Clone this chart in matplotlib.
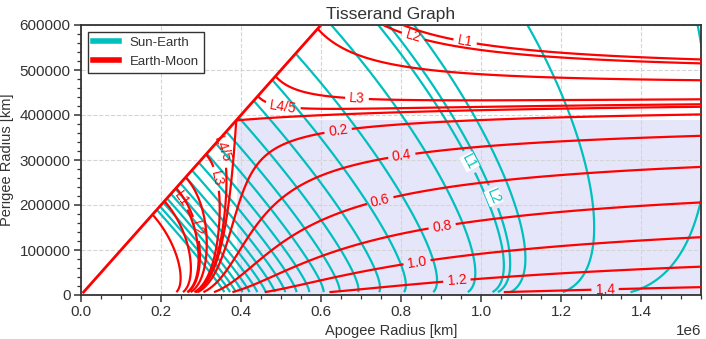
import numpy as np
import matplotlib
matplotlib.use("Agg")
import matplotlib.pyplot as plt
from matplotlib.lines import Line2D

plt.rcParams['font.family'] = ['Liberation Sans', 'DejaVu Sans']
plt.rcParams['text.color'] = '#333333'
plt.rcParams['axes.labelcolor'] = '#333333'
plt.rcParams['axes.edgecolor'] = '#333333'
plt.rcParams['xtick.color'] = '#333333'
plt.rcParams['ytick.color'] = '#333333'

# system constants (CR3BP units)
EM_MU = 0.01215              # Earth-Moon mass ratio
EM_LU = 389703.0             # km
EM_VU = 389703.0 / 382981.0  # km/s
SE_MU = 3.0035e-6            # Sun-Earth mass ratio
SE_LU = 149597871.0          # km
R_EARTH = 6378.0             # km

# Earth-Moon levels
EM_VINF = [0.0, 0.2, 0.4, 0.6, 0.8, 1.0, 1.2, 1.4]     # km/s
EM_LNAMES = ['L1', 'L2', 'L3', 'L4/5']
EM_LJACOBI = [3.1883, 3.1722, 3.0121, 2.9880]
EM_EXTRA = [3.1]            # unlabelled
EM_INNER = [3.3, 3.5]       # unlabelled, inside lunar orbit only

# Sun-Earth levels (Jacobi constant)
SE_LEVELS = [3.000683, 3.000774, 3.000864, 3.000955, 3.001045, 3.001136,
             3.001227, 3.001317, 3.001408, 3.001498, 3.001589, 3.001680,
             3.001770, 3.001861, 3.001951, 3.002042, 3.002133, 3.002223,
             3.002314, 3.002404, 3.002495]
SE_LNAMES = ['L1', 'L2']
SE_LJACOBI = [3.000900, 3.000889]

# label positions (apogee km, perigee km)
EM_VINF_POS = [None, (0.6425e6, 366700), (0.8018e6, 311100), (0.7475e6, 211100),
               (0.9018e6, 159300), (0.8393e6, 77800), (0.9393e6, 37800),
               (1.31e6, 18400)]
EM_LPOS_OUT = [(0.96e6, 562200), (0.83e6, 573300), (0.69e6, 437800), (0.505e6, 417800)]
EM_LPOS_IN = [(0.2475e6, 211100), (0.293e6, 148200), (0.343e6, 259300), (0.352e6, 322200)]
SE_LPOS = [(0.968e6, 294400), (1.0225e6, 214900)]

XMAX = 1.55e6
YMAX = 6.0e5


def tisserand(ra, rp, mu_c, lu):
    a = 0.5 * (ra + rp) / lu
    p = 2.0 * ra * rp / (ra + rp) / lu
    return mu_c / a + 2.0 * np.sqrt(mu_c * p)


ra = np.linspace(1.0e3, 1.56e6, 1800)
rp = np.linspace(R_EARTH, YMAX, 800)
RA, RP = np.meshgrid(ra, rp)
valid = RP <= RA

T_em = np.where(valid, tisserand(RA, RP, 1.0 - EM_MU, EM_LU), np.nan)
T_em_in = np.where(RA < EM_LU, T_em, np.nan)
C_se = np.where(valid, 3.0 + tisserand(RA, RP, SE_MU, SE_LU), np.nan)

T0 = 3.0 * (1.0 - EM_MU) ** (2.0 / 3.0)
vinf_T = [T0 - (v / EM_VU) ** 2 for v in EM_VINF]

fig = plt.figure(figsize=(7.06, 3.39), dpi=100)
ax = fig.add_axes([81 / 706, 44 / 339, 620 / 706, 270 / 339])

ax.fill_between([EM_LU, XMAX], 0, EM_LU, color='lavender', zorder=0.1, lw=0)

lw = 1.6
lab = dict(fontsize=10, inline=True, inline_spacing=4)

ax.contour(RA, RP, C_se, levels=SE_LEVELS, colors='c', linewidths=lw, zorder=2)
for name, c, pos in zip(SE_LNAMES, SE_LJACOBI, SE_LPOS):
    cs = ax.contour(RA, RP, C_se, levels=[c], colors='c', linewidths=lw, zorder=2)
    txts = cs.clabel(manual=[pos], fmt={cs.levels[0]: name}, **lab)
    for t in txts:
        t.set_bbox(dict(facecolor='white', edgecolor='none', pad=0.3))

for v, t, pos in zip(EM_VINF, vinf_T, EM_VINF_POS):
    cs = ax.contour(RA, RP, T_em, levels=[t], colors='r', linewidths=lw, zorder=3)
    if pos is not None:
        cs.clabel(manual=[pos], fmt={cs.levels[0]: f'{v:.1f}'}, **lab)

for name, c, p_out, p_in in zip(EM_LNAMES, EM_LJACOBI, EM_LPOS_OUT, EM_LPOS_IN):
    cs = ax.contour(RA, RP, T_em, levels=[c], colors='r', linewidths=lw, zorder=3)
    cs.clabel(manual=[p_out, p_in], fmt={cs.levels[0]: name}, **lab)

ax.contour(RA, RP, T_em, levels=EM_EXTRA, colors='r', linewidths=lw, zorder=3)
ax.contour(RA, RP, T_em_in, levels=EM_INNER, colors='r', linewidths=lw, zorder=3)

ax.plot([R_EARTH, YMAX], [R_EARTH, YMAX], color='r', lw=2, zorder=3)

ax.set_xlim(0, XMAX)
ax.set_ylim(0, YMAX)
ax.set_axisbelow(True)
ax.minorticks_on()
ax.grid(True, which='major', ls='--', color='#d4d4d4', lw=0.8)
ax.tick_params(which='major', length=5, width=1.1, labelsize=11, pad=2.5)
ax.tick_params(which='minor', length=3, width=0.9)
for s in ax.spines.values():
    s.set_linewidth(1.3)
ax.xaxis.get_offset_text().set_fontsize(11)

ax.set_xlabel('Apogee Radius [km]', fontsize=10.5, labelpad=3)
ax.set_ylabel('Perigee Radius [km]', fontsize=10.5)
ax.set_title('Tisserand Graph', fontsize=12.5, pad=4)

handles = [Line2D([0], [0], color='c', lw=4), Line2D([0], [0], color='r', lw=4)]
leg = ax.legend(handles, ['Sun-Earth', 'Earth-Moon'], loc='upper left', fontsize=9.5,
                fancybox=False, framealpha=1, edgecolor='#333333')
leg.get_frame().set_linewidth(1.0)

fig.savefig('out.png', dpi=100)
